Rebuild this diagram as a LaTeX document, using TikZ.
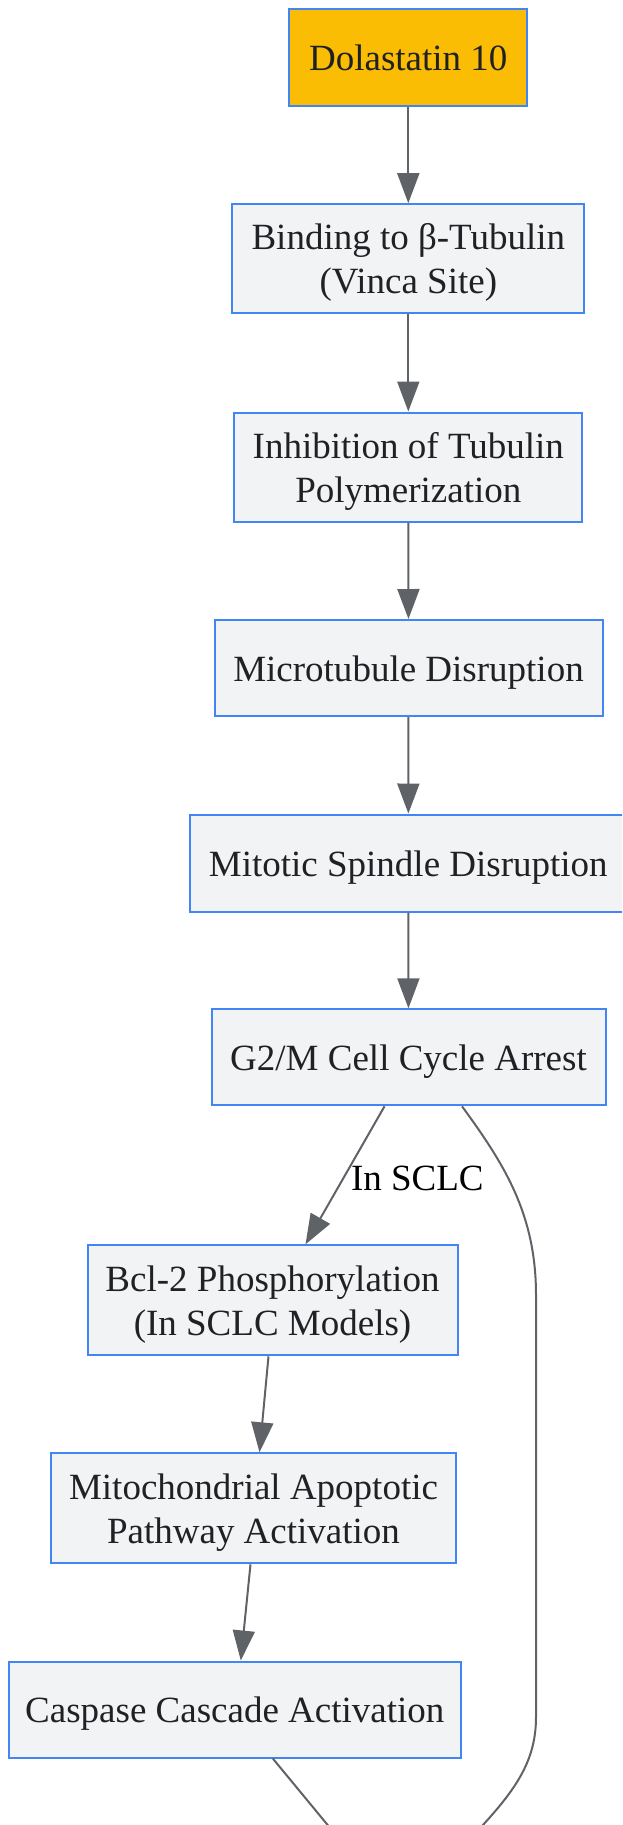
\documentclass[tikz,border=0pt]{standalone}
\usepackage{fontspec}
\setmainfont{Liberation Serif}
\usepackage{xcolor}
\usepackage{tikz}
\usetikzlibrary{arrows.meta}

\definecolor{boxblue}{HTML}{4285F4}
\definecolor{boxgray}{HTML}{F1F3F4}
\definecolor{drugyellow}{HTML}{FBBC04}
\definecolor{textdark}{HTML}{202124}
\definecolor{edgegray}{HTML}{5F6368}

% fixed line box, so all texts sit alike
\newcommand{\linestrut}{\rule[-10pt]{0pt}{46pt}}
\newcommand{\twolines}[2]{\rule{0pt}{36pt}#1\\#2\rule[-10pt]{0pt}{10pt}}

\begin{document}
\begin{tikzpicture}[
		x=1pt, y=-1pt,
		every node/.style={font=\fontsize{37}{44}\selectfont},
		box/.style={draw=boxblue, fill=boxgray, line width=2pt, text=textdark, align=center, inner sep=0pt,
			execute at begin node=\linestrut, execute at end node=\linestrut},
		drug/.style={box, fill=drugyellow},
		edge/.style={draw=edgegray, line width=2pt, -{Triangle[length=30pt, width=22pt]}},
		loose/.style={draw=edgegray, line width=2pt},
		edgelabel/.style={text=black, inner sep=0pt}
		]

	% page
	\clip (0, 0) rectangle (622, 1825);

	% Main chain
	\node[drug, minimum width=238, minimum height=97] (dol) at (408.3, 57.7) {Dolastatin 10};
	\node[box, minimum width=352, minimum height=109] (bind) at (408.3, 258.7) {\twolines{Binding to β-Tubulin}{(Vinca Site)}};
	\node[box, minimum width=348, minimum height=109] (inhib) at (408.3, 467) {\twolines{Inhibition of Tubulin}{Polymerization}};
	\node[box, minimum width=388, minimum height=96] (micro) at (408.5, 668) {Microtubule Disruption};
	\node[box, minimum width=436, minimum height=97] (spindle) at (408.3, 863) {Mitotic Spindle Disruption};
	\node[box, minimum width=394, minimum height=96] (arrest) at (408.5, 1057.3) {G2/M Cell Cycle Arrest};

	% SCLC branch
	\node[box, minimum width=370, minimum height=110] (bcl) at (272.5, 1300.3) {\twolines{Bcl-2 Phosphorylation}{(In SCLC Models)}};
	\node[box, minimum width=405, minimum height=110] (mito) at (253.5, 1508.3) {\twolines{Mitochondrial Apoptotic}{Pathway Activation}};
	\node[box, minimum width=452, minimum height=96] (casp) at (234.8, 1709.5) {Caspase Cascade Activation};

	% Ends below the page
	\coordinate (outA) at (345, 1846);
	\coordinate (outB) at (466, 1843);

	% Straight arrows
	\foreach \a/\b in {dol/bind, bind/inhib, inhib/micro, micro/spindle, spindle/arrest}{
		\draw[edge] (\a) -- (\b);
	}

	% Arrest to Bcl-2
	\draw[edge] ([xshift=-24pt]arrest.south) -- node[edgelabel, midway, right=5pt, yshift=-3pt] {In SCLC} ([xshift=33pt]bcl.north);

	% Down the branch
	\draw[edge] ([xshift=-4pt]bcl.south) -- ([xshift=6pt]mito.north);
	\draw[edge] ([xshift=-3pt]mito.south) -- ([xshift=6pt]casp.north);
	\draw[loose] ([xshift=38pt]casp.south) -- (outA);

	% Long way round
	\draw[loose] ([xshift=53.5pt]arrest.south) .. controls (505, 1165) and (536, 1215) .. (536, 1295)
		-- (536, 1717) .. controls (536, 1765) and (512, 1795) .. (outB);

\end{tikzpicture}
\end{document}
